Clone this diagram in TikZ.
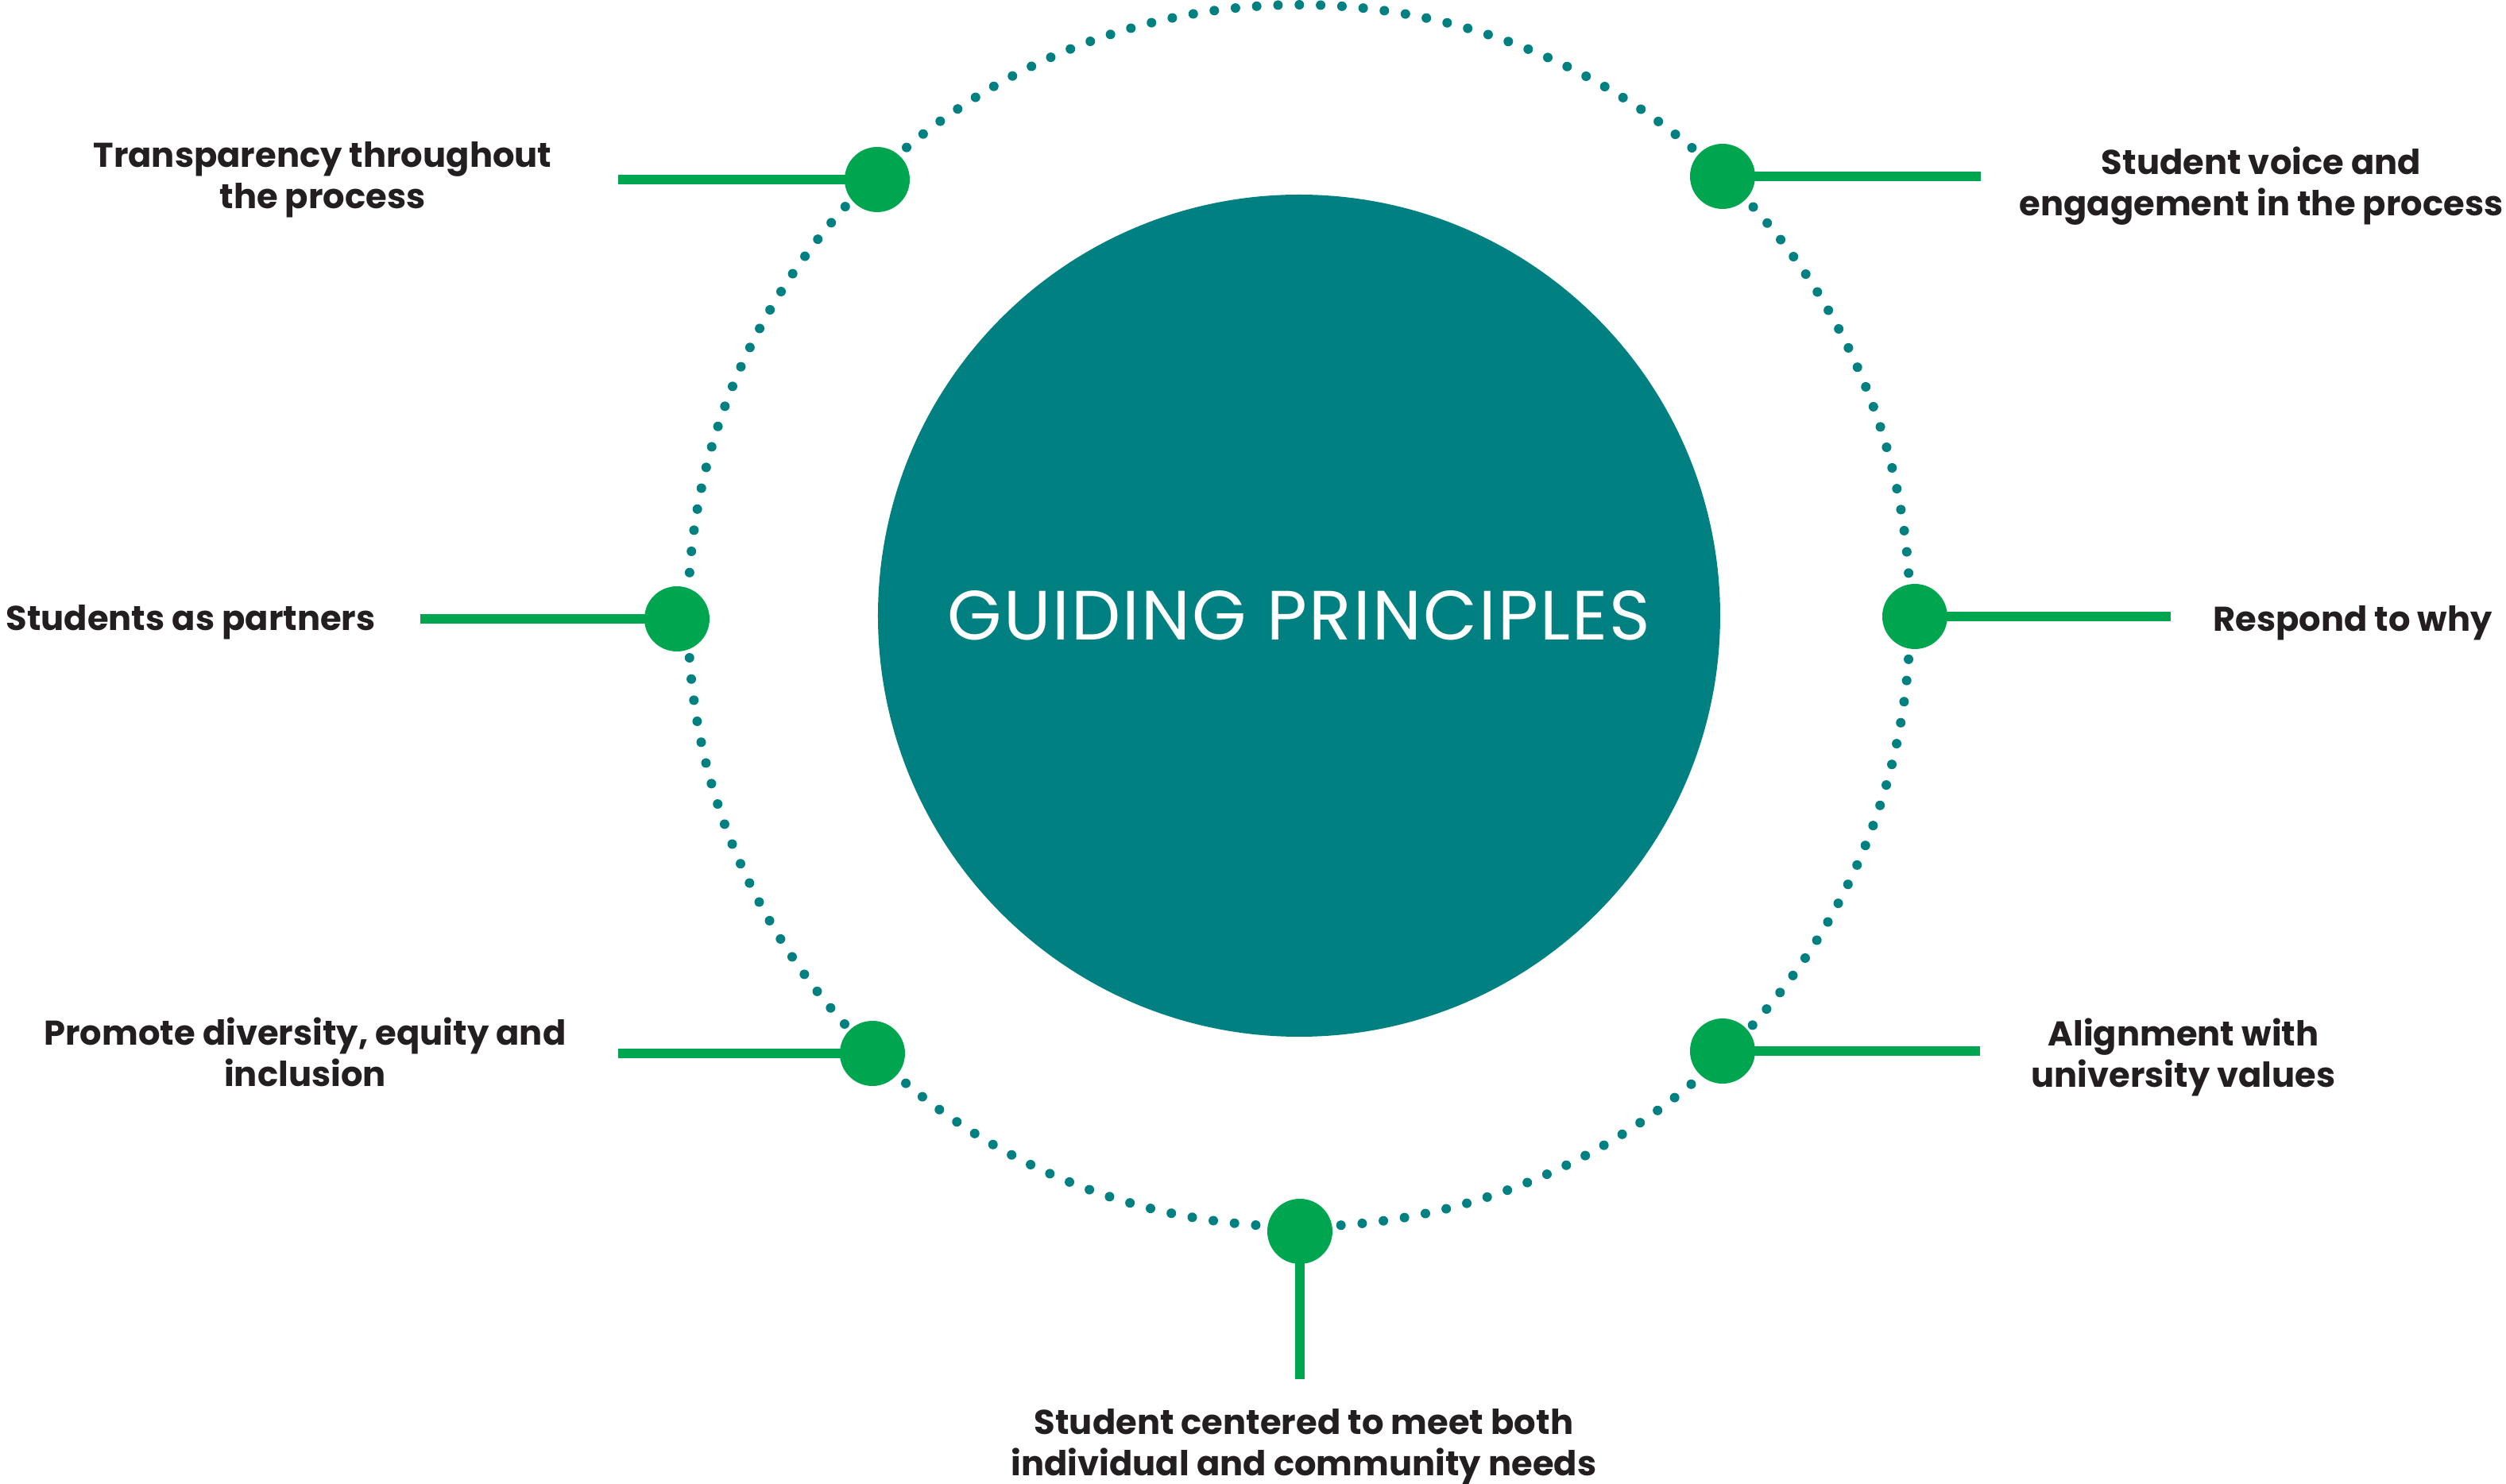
\documentclass[tikz,border=0pt]{standalone}
\usepackage{fontspec}
\setmainfont{Poppins}
\usetikzlibrary{positioning}
\definecolor{ringteal}{HTML}{008080}
\definecolor{knobgreen}{HTML}{00A54F}
\definecolor{inkgray}{HTML}{231F20}
\tikzstyle{hub} = [circle, fill=ringteal, minimum size=10.6cm, inner sep=0pt, text=white, font=\fontsize{25}{28}\selectfont\addfontfeature{LetterSpace=2.5}]
\tikzstyle{knob} = [circle, fill=knobgreen, minimum size=0.82cm, inner sep=0pt]
\tikzstyle{spoke} = [draw=knobgreen, line width=0.123cm]
\tikzstyle{principle} = [text=inkgray, align=center, font=\fontsize{12.3}{14.8}\selectfont\bfseries]

\begin{document}
\begin{tikzpicture}
   \useasboundingbox (-16.35,-10.93) rectangle (15.19,7.75);
   \draw[ringteal, line width=0.12cm, line cap=round, dash pattern=on 0pt off 0.2684cm] (0,0) circle (7.69);
   \node[hub] (gp) at (0,0) {GUIDING PRINCIPLES};
   % knobs on the ring
   \node[knob] (k1) at (-5.31,5.49)  {};
   \node[knob] (k2) at (5.33,5.53)   {};
   \node[knob] (k3) at (-7.83,-0.04) {};
   \node[knob] (k4) at (7.75,-0.01)  {};
   \node[knob] (k5) at (-5.37,-5.51) {};
   \node[knob] (k6) at (5.33,-5.48)  {};
   \node[knob] (k7) at (0.01,-7.75)  {};
   % free ends of the spokes
   \coordinate (e1) at (-8.57,5.49);
   \coordinate (e2) at (8.58,5.53);
   \coordinate (e3) at (-11.06,-0.04);
   \coordinate (e4) at (10.97,-0.01);
   \coordinate (e5) at (-8.57,-5.51);
   \coordinate (e6) at (8.57,-5.48);
   \coordinate (e7) at (0.01,-9.61);
   \draw[spoke] (k1.center) -- (e1);
   \draw[spoke] (k2.center) -- (e2);
   \draw[spoke] (k3.center) -- (e3);
   \draw[spoke] (k4.center) -- (e4);
   \draw[spoke] (k5.center) -- (e5);
   \draw[spoke] (k6.center) -- (e6);
   \draw[spoke] (k7.center) -- (e7);
   % principles
   \node[principle] (p1) at (-12.29,5.49) {Transparency throughout\\the process};
   \node[principle] (p2) at (12.11,5.41)  {Student voice and\\engagement in the process};
   \node[principle] (p3) at (-13.95,-0.08) {Students as partners};
   \node[principle] (p4) at (13.26,-0.09) {Respond to why};
   \node[principle] (p5) at (-12.51,-5.49) {Promote diversity, equity and\\inclusion};
   \node[principle] (p6) at (11.13,-5.56) {Alignment with\\university values};
   \node[principle] (p7) at (0.06,-10.46) {Student centered to meet both\\individual and community needs};
\end{tikzpicture}
\end{document}
